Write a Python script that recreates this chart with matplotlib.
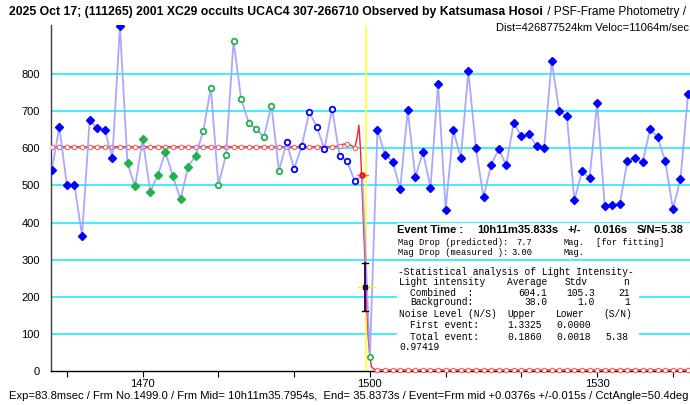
import numpy as np
import matplotlib
matplotlib.use("Agg")
import matplotlib.pyplot as plt
from matplotlib.patches import Rectangle

# ---------------- data ----------------
frames = list(range(1458, 1543))
values = [541, 657, 501, 501, 364, 676, 654, 650, 573, 929,
          559, 497, 624, 483, 527, 590, 524, 462, 550, 580,
          646, 763, 501, 582, 889, 733, 669, 651, 631, 715, 539,
          616, 545, 606, 698, 657, 598, 707, 580, 565, 511,
          528, 38,
          650, 582, 564, 491, 702, 522, 590, 494, 774, 435,
          650, 573, 807, 600, 468, 555, 597, 555, 669, 632,
          638, 606, 600, 835, 700, 686, 460, 539, 519, 723,
          445, 446, 450, 567, 573, 562, 652, 629, 565, 437,
          516, 746]

# marker groups (frame ranges, inclusive)
blue_filled_ranges = [(1458, 1467), (1501, 1542)]
green_filled_range = (1468, 1477)
green_hollow_range = (1478, 1488)
blue_hollow_range = (1489, 1498)
event_frame = 1499
bottom_frame = 1500

# fitted model curve
fit_level = 604.1
fit_bottom = 3
fit_detail_frames = [1495.5, 1496, 1496.5, 1497, 1497.5, 1498, 1498.3, 1498.55,
                     1498.75, 1498.9, 1499.1, 1499.35, 1499.55, 1499.8, 1500,
                     1500.2, 1500.5]
fit_detail_values = [605, 607, 611, 612, 608, 601, 628, 662,
                     600, 528, 420, 300, 190, 84, 38,
                     12, 5]
fit_circle_frames_pre = list(range(1458, 1499))
fit_circle_frames_post = list(range(1501, 1543))

event_line_frame = 1499.49
errbar_frame = 1499.36
errbar_low, errbar_mid, errbar_high = 162, 227, 290
yellow_bar = (1498.4, 1500.5)
magenta_bar = (1498.25, 1499.8)

yticks = [0, 100, 200, 300, 400, 500, 600, 700, 800]
xticks = list(range(1460, 1541, 10))
xlabels = {1470: "1470", 1500: "1500", 1530: "1530"}

title_bold = "2025 Oct 17; (111265) 2001 XC29 occults UCAC4 307-266710 Observed by Katsumasa Hosoi"
title_norm = " / PSF-Frame Photometry /"
subtitle = "Dist=426877524km Veloc=11064m/sec"
footer = ("Exp=83.8msec / Frm No.1499.0 / Frm Mid= 10h11m35.7954s,  End= 35.8373s / "
          "Event=Frm mid +0.0376s +/-0.015s / CctAngle=50.4deg")

# ---------------- figure ----------------
W, H = 690, 405
fig = plt.figure(figsize=(W / 100, H / 100), dpi=100)
ax_l, ax_r, ax_t, ax_b = 51, 690, 25, 371
ax = fig.add_axes([ax_l / W, 1 - ax_b / H, (ax_r - ax_l) / W, (ax_b - ax_t) / H])
ax.set_xlim(1457.9, 1542.26)
ax.set_ylim(0, 932)

narrow = ['Liberation Sans Narrow', 'Liberation Sans', 'DejaVu Sans']

# grid
for v in yticks[1:]:
    ax.axhline(v, color='#30ecff', lw=1.3, zorder=1)

# event line
ax.axvline(event_line_frame, color='#ffff30', lw=1.2, zorder=2)

# fitted model
fx = [f for f in range(1458, 1496)] + fit_detail_frames + list(range(1501, 1543))
fy = [fit_level] * len(range(1458, 1496)) + fit_detail_values + [fit_bottom] * len(range(1501, 1543))
ax.plot(fx, fy, color='#ff2020', lw=1.0, zorder=3)
pre_y = [np.interp(f, fx, fy) for f in fit_circle_frames_pre]
ax.plot(fit_circle_frames_pre, pre_y, ls='none', marker='o', ms=3.2, mfc='white',
        mec='#ff5a5a', mew=0.8, zorder=4)
ax.plot(fit_circle_frames_post, [fit_bottom] * len(fit_circle_frames_post), ls='none',
        marker='o', ms=3.2, mfc='white', mec='#ff5a5a', mew=0.8, zorder=4, clip_on=False)

# observed light curve line
ax.plot(frames, values, color='#a0a0ff', lw=1.3, alpha=0.9, zorder=5)

fv = dict(zip(frames, values))

def sel(a, b):
    xs = [f for f in frames if a <= f <= b]
    return xs, [fv[f] for f in xs]

for a, b in blue_filled_ranges:
    xs, ys = sel(a, b)
    ax.plot(xs, ys, ls='none', marker='D', ms=4.0, color='#0000ff', mec='#0000ff', zorder=6)
xs, ys = sel(*green_filled_range)
ax.plot(xs, ys, ls='none', marker='D', ms=4.0, color='#22b14c', mec='#22b14c', zorder=6)
xs, ys = sel(*green_hollow_range)
ax.plot(xs, ys, ls='none', marker='o', ms=4.0, mfc='white', mec='#22b14c', mew=1.3, zorder=6)
xs, ys = sel(*blue_hollow_range)
ax.plot(xs, ys, ls='none', marker='o', ms=4.0, mfc='white', mec='#0000ff', mew=1.3, zorder=6)

# event frame point with bar
ax.plot(list(magenta_bar), [fv[event_frame]] * 2, color='#ff60c0', lw=1.0, zorder=6)
ax.plot([event_frame], [fv[event_frame]], ls='none', marker='o', ms=3.6, mfc='#ff3030',
        mec='#ff0000', zorder=7)
ax.plot([bottom_frame], [fv[bottom_frame]], ls='none', marker='o', ms=3.8, mfc='white',
        mec='#22b14c', mew=1.2, zorder=7)

# error bar at event
ax.plot([errbar_frame] * 2, [errbar_low, errbar_high], color='#400060', lw=1.4, zorder=8)
ax.plot(list(yellow_bar), [errbar_mid] * 2, color='#ffee00', lw=1.0, zorder=8)
for v in (errbar_low, errbar_high):
    ax.plot([errbar_frame - 0.35, errbar_frame + 0.35], [v, v], color='black', lw=1.0, zorder=9)
ax.plot([errbar_frame], [errbar_mid], ls='none', marker='s', ms=2.5, color='#200040', zorder=9)

# axes styling
for s in ('top', 'right'):
    ax.spines[s].set_visible(False)
ax.spines['left'].set_color('#404040')
ax.spines['bottom'].set_color('black')
ax.spines['left'].set_linewidth(1.0)
ax.spines['bottom'].set_linewidth(1.0)
ax.set_yticks(yticks)
ax.set_yticklabels([str(v) for v in yticks], family=narrow, fontsize=8)
ax.tick_params(axis='y', length=0, pad=8)
ax.set_xticks(xticks)
ax.set_xticklabels([xlabels.get(t, "") for t in xticks], family=narrow, fontsize=8)
ax.tick_params(axis='x', length=4, width=0.8, direction='out', pad=2)
ax.set_facecolor('white')

# ---------------- texts ----------------
renderer = fig.canvas.get_renderer()

def ftext(x, y, s, **kw):
    return fig.text(x / W, 1 - y / H, s, va='center', **kw)

def fit_width(t, target):
    w = t.get_window_extent(renderer=renderer).width
    t.set_fontsize(t.get_fontsize() * target / w)
    return t

t1 = ftext(9, 12, title_bold, family=['Liberation Sans', 'DejaVu Sans'], fontweight='bold', fontsize=8.2)
fit_width(t1, 544 - 9)
t2 = ftext(544, 12, title_norm, family=narrow, fontsize=8.5)
fit_width(t2, 686 - 544)
t3 = fig.text(689 / W, 1 - 28 / H, subtitle, ha='right', va='center', family=narrow, fontsize=8.5)
fit_width(t3, 689 - 497)
t4 = ftext(9, 396, footer, family=narrow, fontsize=8.5)
fit_width(t4, 686 - 9)

# white background boxes for info text
fig.patches.append(Rectangle((397 / W, 1 - 258 / H), (690 - 397) / W, (258 - 223) / H,
                             transform=fig.transFigure, facecolor='white', edgecolor='none', zorder=5))
fig.patches.append(Rectangle((397 / W, 1 - 352 / H), (639 - 397) / W, (352 - 262) / H,
                             transform=fig.transFigure, facecolor='white', edgecolor='none', zorder=5))

mono = ['Liberation Mono', 'DejaVu Sans Mono']
bold = ['Liberation Sans', 'DejaVu Sans']
ms_ = 6.9
kwb = dict(family=bold, fontweight='bold', fontsize=8.0, zorder=10)
ftext(397, 230, "Event Time :", **kwb)
ftext(477, 230, "10h11m35.833s", **kwb)
ftext(567, 230, "+/-", **kwb)
ftext(594, 230, "0.016s", **kwb)
ftext(637, 230, "S/N=5.38", **kwb)

kwm = dict(family=mono, fontsize=ms_, zorder=10)
kwm2 = dict(family=mono, fontsize=6.3, zorder=10)
ftext(398, 242.7, "Mag Drop (predicted):", **kwm2)
ftext(516, 242.7, "7.7", **kwm2)
ftext(563, 242.7, "Mag.", **kwm2)
ftext(596, 242.7, "[for fitting]", **kwm2)
ftext(398, 252.7, "Mag Drop (measured ):", **kwm2)
ftext(511, 252.7, "3.00", **kwm2)
ftext(563, 252.7, "Mag.", **kwm2)

rows = [271.7, 282.2, 292.5, 302.2, 314.2, 325.4, 336.5, 347.0]
ftext(398, rows[0], "-Statistical analysis of Light Intensity-", **kwm)
ftext(399, rows[1], "Light intensity", **kwm)
ftext(507, rows[1], "Average", **kwm)
ftext(565, rows[1], "Stdv", **kwm)
ftext(623, rows[1], "n", **kwm)
ftext(410, rows[2], "Combined  :", **kwm)
ftext(547, rows[2], "604.1", ha='right', **kwm)
ftext(595, rows[2], "105.3", ha='right', **kwm)
ftext(630, rows[2], "21", ha='right', **kwm)
ftext(410, rows[3], "Background:", **kwm)
ftext(547, rows[3], "38.0", ha='right', **kwm)
ftext(595, rows[3], "1.0", ha='right', **kwm)
ftext(630, rows[3], "1", ha='right', **kwm)
ftext(399, rows[4], "Noise Level (N/S)", **kwm)
ftext(507, rows[4], "Upper", **kwm)
ftext(556, rows[4], "Lower", **kwm)
ftext(603, rows[4], "(S/N)", **kwm)
ftext(410, rows[5], "First event:", **kwm)
ftext(507, rows[5], "1.3325", **kwm)
ftext(556, rows[5], "0.0000", **kwm)
ftext(410, rows[6], "Total event:", **kwm)
ftext(507, rows[6], "0.1860", **kwm)
ftext(556, rows[6], "0.0018", **kwm)
ftext(605, rows[6], "5.38", **kwm)
ftext(399, rows[7], "0.97419", **kwm)

fig.savefig("out.png", dpi=100, facecolor='white')
